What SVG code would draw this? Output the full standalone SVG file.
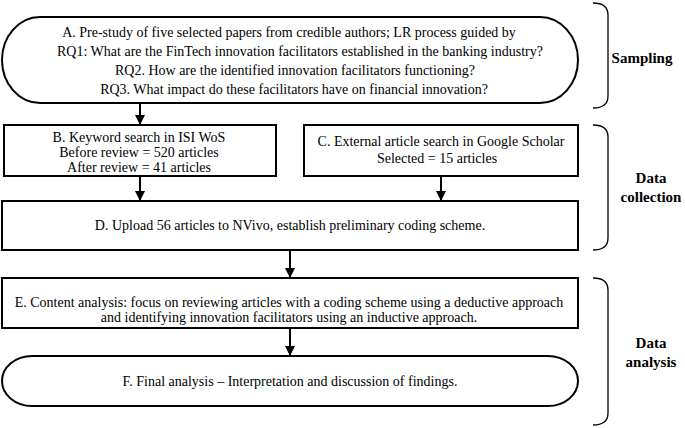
<svg xmlns="http://www.w3.org/2000/svg" width="685" height="428" viewBox="0 0 685 428">
<style>
.box{fill:#fff;stroke:#000;stroke-width:2}
.t{font-family:'Liberation Serif','Times New Roman','DejaVu Serif',serif;font-size:14px;fill:#000;text-anchor:middle}
.lbl{font-family:'Liberation Serif','Times New Roman','DejaVu Serif',serif;font-size:15px;font-weight:bold;fill:#000;text-anchor:middle}
.conn{stroke:#000;stroke-width:2;fill:none}
.br{stroke:#000;stroke-width:1.3;fill:none}
</style>
<defs>
<marker id="ah" viewBox="0 0 10 10" refX="10" refY="5" markerWidth="5" markerHeight="5" orient="auto" markerUnits="strokeWidth">
<path d="M0,0 L10,5 L0,10 z" fill="#000"/>
</marker>
</defs>
<rect width="685" height="428" fill="#fff"/>
<g id="connectors">
<line class="conn" x1="140" y1="103" x2="140" y2="125" marker-end="url(#ah)"/>
<line class="conn" x1="140" y1="176" x2="140" y2="201" marker-end="url(#ah)"/>
<line class="conn" x1="441" y1="176" x2="441" y2="201" marker-end="url(#ah)"/>
<line class="conn" x1="290" y1="250" x2="290" y2="278" marker-end="url(#ah)"/>
<line class="conn" x1="290" y1="328" x2="290" y2="356" marker-end="url(#ah)"/>
</g>
<g id="nodeA">
<rect class="box" x="2" y="17" width="576" height="86" rx="38" ry="43"/>
<text class="t" x="289" y="37">A. Pre-study of five selected papers from credible authors; LR process guided by</text>
<text class="t" x="300" y="56">RQ1: What are the FinTech innovation facilitators established in the banking industry?</text>
<text class="t" x="295" y="75">RQ2. How are the identified innovation facilitators functioning?</text>
<text class="t" x="294" y="94">RQ3. What impact do these facilitators have on financial innovation?</text>
</g>
<g id="nodeB">
<rect class="box" x="4" y="125" width="272" height="51"/>
<text class="t" x="139" y="142">B. Keyword search in ISI WoS</text>
<text class="t" x="139" y="157">Before review = 520 articles</text>
<text class="t" x="139" y="172">After review = 41 articles</text>
</g>
<g id="nodeC">
<rect class="box" x="304" y="125" width="274" height="51"/>
<text class="t" x="441" y="146">C. External article search in Google Scholar</text>
<text class="t" x="437" y="163">Selected = 15 articles</text>
</g>
<g id="nodeD">
<rect class="box" x="2" y="201" width="576" height="49"/>
<text class="t" x="290" y="230">D. Upload 56 articles to NVivo, establish preliminary coding scheme.</text>
</g>
<g id="nodeE">
<rect class="box" x="2" y="278" width="576" height="50"/>
<text class="t" x="289" y="307">E. Content analysis: focus on reviewing articles with a coding scheme using a deductive approach</text>
<text class="t" x="289" y="322">and identifying innovation facilitators using an inductive approach.</text>
</g>
<g id="nodeF">
<rect class="box" x="2" y="356" width="576" height="50" rx="30" ry="25"/>
<text class="t" x="290" y="386">F. Final analysis – Interpretation and discussion of findings.</text>
</g>
<g id="sampling">
<path class="br" d="M593,3 Q608,3 608,15 L608,96 Q608,108 593,108"/>
<text class="lbl" x="642" y="63">Sampling</text>
</g>
<g id="datacollection">
<path class="br" d="M593,125 Q608,125 608,137 L608,238 Q608,250 593,250"/>
<text class="lbl" x="651" y="183">Data</text>
<text class="lbl" x="651" y="202">collection</text>
</g>
<g id="dataanalysis">
<path class="br" d="M593,278 Q608,278 608,290 L608,413 Q608,425 593,425"/>
<text class="lbl" x="651" y="348">Data</text>
<text class="lbl" x="651" y="367">analysis</text>
</g>
</svg>
